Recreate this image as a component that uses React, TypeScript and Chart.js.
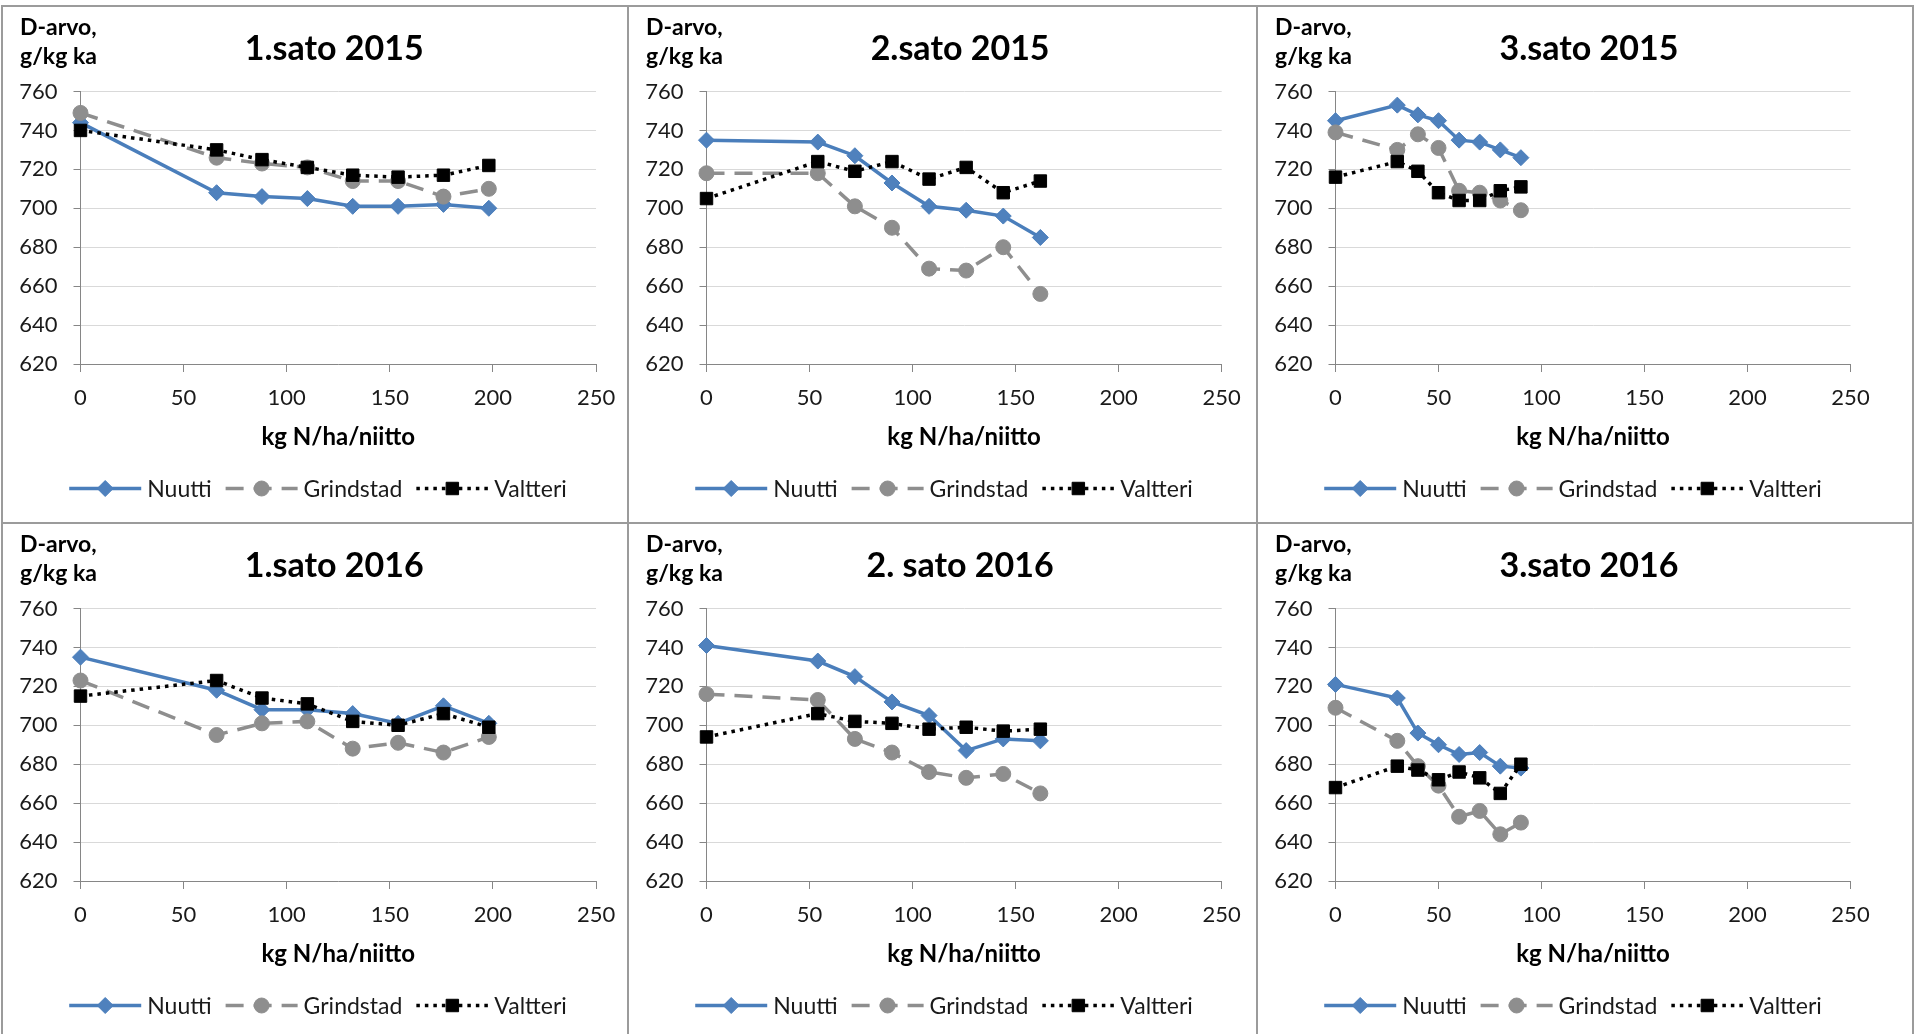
import React, { useEffect, useRef } from "react";
import { Chart, registerables } from "chart.js";

Chart.register(...registerables);

// ---------- data ----------
const yMin = 620;
const yMax = 760;
const yStep = 20;
const xMin = 0;
const xMax = 250;
const xStep = 50;

const seriesNames = ["Nuutti", "Grindstad", "Valtteri"];
const yLabelLines = ["D-arvo,", "g/kg ka"];
const xAxisTitle = "kg N/ha/niitto";

// N rates (kg N/ha/niitto)
const nRates1 = [0, 66, 88, 110, 132, 154, 176, 198];
const nRates2 = [0, 54, 72, 90, 108, 126, 144, 162];
const nRates3 = [0, 30, 40, 50, 60, 70, 80, 90];

// 1.sato 2015
const nuutti1_2015 = [744, 708, 706, 705, 701, 701, 702, 700];
const grindstad1_2015 = [749, 726, 723, 721, 714, 714, 706, 710];
const valtteri1_2015 = [740, 730, 725, 721, 717, 716, 717, 722];
// 2.sato 2015
const nuutti2_2015 = [735, 734, 727, 713, 701, 699, 696, 685];
const grindstad2_2015 = [718, 718, 701, 690, 669, 668, 680, 656];
const valtteri2_2015 = [705, 724, 719, 724, 715, 721, 708, 714];
// 3.sato 2015
const nuutti3_2015 = [745, 753, 748, 745, 735, 734, 730, 726];
const grindstad3_2015 = [739, 730, 738, 731, 709, 708, 704, 699];
const valtteri3_2015 = [716, 724, 719, 708, 704, 704, 709, 711];
// 1.sato 2016
const nuutti1_2016 = [735, 718, 708, 708, 706, 701, 710, 701];
const grindstad1_2016 = [723, 695, 701, 702, 688, 691, 686, 694];
const valtteri1_2016 = [715, 723, 714, 711, 702, 700, 706, 699];
// 2. sato 2016
const nuutti2_2016 = [741, 733, 725, 712, 705, 687, 693, 692];
const grindstad2_2016 = [716, 713, 693, 686, 676, 673, 675, 665];
const valtteri2_2016 = [694, 706, 702, 701, 698, 699, 697, 698];
// 3.sato 2016
const nuutti3_2016 = [721, 714, 696, 690, 685, 686, 679, 678];
const grindstad3_2016 = [709, 692, 679, 669, 653, 656, 644, 650];
const valtteri3_2016 = [668, 679, 677, 672, 676, 673, 665, 680];

const panelTitles = ["1.sato 2015", "2.sato 2015", "3.sato 2015", "1.sato 2016", "2. sato 2016", "3.sato 2016"];
const panelX = [nRates1, nRates2, nRates3, nRates1, nRates2, nRates3];
const panelNuutti = [nuutti1_2015, nuutti2_2015, nuutti3_2015, nuutti1_2016, nuutti2_2016, nuutti3_2016];
const panelGrindstad = [grindstad1_2015, grindstad2_2015, grindstad3_2015, grindstad1_2016, grindstad2_2016, grindstad3_2016];
const panelValtteri = [valtteri1_2015, valtteri2_2015, valtteri3_2015, valtteri1_2016, valtteri2_2016, valtteri3_2016];

// ---------- layout / style ----------
const COLS = [
  { left: 2, width: 626, rightPad: 30.6 },
  { left: 628, width: 629, rightPad: 35.3 },
  { left: 1257, width: 629, rightPad: 35.5 },
];
const ROWS = [
  { top: 6, height: 517 },
  { top: 523, height: 511 },
];
const PLOT_TOP = 85.5;
const PLOT_BOTTOM = 358;
const Y_AXIS_W = 78.5;
const X_AXIS_H = 90;

const FONT = "Lato, 'Open Sans', sans-serif";
const BLUE_LINE = "#4A7EBB";
const BLUE_FILL = "#4F81BD";
const GRAY = "#8E8E8E";
const BLACK = "#000000";
const GRID = "#D9D9D9";
const AXIS = "#868686";
const BORDER = "#9B9B9B";

const styles = [
  { color: BLUE_LINE, fill: BLUE_FILL, dash: [] as number[], style: "rectRot", radius: 8, width: 3.5 },
  { color: GRAY, fill: GRAY, dash: [18, 10], style: "circle", radius: 7.5, width: 3.5 },
  { color: BLACK, fill: BLACK, dash: [3.5, 5], style: "rect", radius: 8.8, width: 3.5 },
];

function drawMarker(ctx: CanvasRenderingContext2D, kind: string, x: number, y: number, r: number, fill: string, stroke: string) {
  ctx.save();
  ctx.setLineDash([]);
  ctx.beginPath();
  if (kind === "rectRot") {
    ctx.moveTo(x - r, y);
    ctx.lineTo(x, y - r);
    ctx.lineTo(x + r, y);
    ctx.lineTo(x, y + r);
    ctx.closePath();
  } else if (kind === "circle") {
    ctx.arc(x, y, r, 0, Math.PI * 2);
  } else {
    const s = r * Math.SQRT1_2;
    ctx.rect(x - s, y - s, 2 * s, 2 * s);
  }
  ctx.fillStyle = fill;
  ctx.fill();
  ctx.lineWidth = 1;
  ctx.strokeStyle = stroke;
  ctx.stroke();
  ctx.restore();
}

const decorPlugin = {
  id: "decor",
  afterDraw(chart: any, _args: any, opts: any) {
    const ctx: CanvasRenderingContext2D = chart.ctx;
    const ca = chart.chartArea;
    ctx.save();
    // y-axis caption
    ctx.fillStyle = "#000";
    ctx.font = `bold 23px ${FONT}`;
    ctx.textAlign = "left";
    ctx.textBaseline = "middle";
    ctx.fillText(yLabelLines[0], 18, 21.5);
    ctx.fillText(yLabelLines[1], 18, 50.5);
    // title
    ctx.font = `bold 34px ${FONT}`;
    ctx.textAlign = "center";
    ctx.fillText(opts.title, (ca.left + ca.right) / 2 - 4, 43);
    // legend
    ctx.font = `23px ${FONT}`;
    const symW = 72;
    const gap = 6;
    const sep = 14;
    const items = chart.data.datasets.map((ds: any) => ({ ds, tw: ctx.measureText(ds.label).width }));
    const total = items.reduce((s: number, it: any) => s + symW + gap + it.tw, 0) + sep * (items.length - 1);
    let x = 316 - total / 2;
    const ly = 482.5;
    items.forEach((it: any, i: number) => {
      const st = styles[i];
      ctx.save();
      ctx.beginPath();
      ctx.setLineDash(st.dash);
      ctx.strokeStyle = st.color;
      ctx.lineWidth = st.width;
      ctx.moveTo(x, ly);
      ctx.lineTo(x + symW, ly);
      ctx.stroke();
      ctx.restore();
      drawMarker(ctx, st.style, x + symW / 2, ly, st.radius, st.fill, st.color);
      ctx.fillStyle = "#1a1a1a";
      ctx.textAlign = "left";
      ctx.textBaseline = "middle";
      ctx.fillText(it.ds.label, x + symW + gap, ly + 1);
      x += symW + gap + it.tw + sep;
    });
    ctx.restore();
  },
};

function Panel({ idx }: { idx: number }) {
  const ref = useRef<HTMLCanvasElement | null>(null);
  const col = COLS[idx % 3];
  const row = ROWS[Math.floor(idx / 3)];
  useEffect(() => {
    if (!ref.current) return;
    const xs = panelX[idx];
    const seriesData = [panelNuutti[idx], panelGrindstad[idx], panelValtteri[idx]];
    const datasets = seriesData.map((vals, i) => ({
      label: seriesNames[i],
      data: xs.map((x, k) => ({ x, y: vals[k] })),
      borderColor: styles[i].color,
      backgroundColor: styles[i].fill,
      borderWidth: styles[i].width,
      borderDash: styles[i].dash,
      pointStyle: styles[i].style,
      pointRadius: styles[i].radius,
      pointBackgroundColor: styles[i].fill,
      pointBorderColor: styles[i].color,
      pointBorderWidth: 1,
      tension: 0,
      clip: false as const,
      order: 3 - i,
    }));
    const chart = new Chart(ref.current, {
      type: "line",
      data: { datasets },
      plugins: [decorPlugin],
      options: {
        animation: false,
        responsive: false,
        devicePixelRatio: 1,
        events: [],
        layout: { padding: { top: PLOT_TOP, left: 0, right: col.rightPad, bottom: row.height - PLOT_BOTTOM - X_AXIS_H } },
        plugins: {
          legend: { display: false },
          title: { display: false },
          tooltip: { enabled: false },
          decor: { title: panelTitles[idx] },
        } as any,
        scales: {
          x: {
            type: "linear",
            min: xMin,
            max: xMax,
            afterFit: (s: any) => { s.height = X_AXIS_H; },
            ticks: { stepSize: xStep, padding: 12.8, color: "#1a1a1a", font: { family: FONT, size: 22 } },
            grid: { drawOnChartArea: false, drawTicks: true, tickLength: 8, tickColor: AXIS, color: AXIS },
            border: { display: true, color: AXIS, width: 1 },
            title: {
              display: true,
              text: xAxisTitle,
              color: "#000",
              font: { family: FONT, size: 24, weight: "bold", lineHeight: 1.2 },
              padding: { top: 0, bottom: 2.1 },
            },
          },
          y: {
            type: "linear",
            min: yMin,
            max: yMax,
            afterFit: (s: any) => { s.width = Y_AXIS_W; },
            ticks: { stepSize: yStep, padding: 16, color: "#1a1a1a", font: { family: FONT, size: 22 } },
            grid: { color: GRID, lineWidth: 1, drawTicks: true, tickLength: 7, tickColor: AXIS },
            border: { display: true, color: AXIS, width: 1 },
          },
        },
      } as any,
    });
    (document as any).fonts?.load?.(`22px Lato`).then(() => chart.update()).catch(() => {});
    return () => chart.destroy();
  }, [idx]);
  return (
    <canvas
      ref={ref}
      width={col.width}
      height={row.height}
      style={{ position: "absolute", left: col.left, top: row.top, width: col.width, height: row.height }}
    />
  );
}

const lineStyle = (l: number, t: number, w: number, h: number): React.CSSProperties => ({
  position: "absolute",
  left: l,
  top: t,
  width: w,
  height: h,
  background: BORDER,
  zIndex: 2,
});

export default function App() {
  return (
    <div style={{ position: "absolute", left: 0, top: 0, width: 1915, height: 1034, background: "#fff", overflow: "hidden" }}>
      {[0, 1, 2, 3, 4, 5].map((i) => (
        <Panel key={i} idx={i} />
      ))}
      <div style={lineStyle(1, 5, 1913, 2)} />
      <div style={lineStyle(1, 522, 1913, 2)} />
      <div style={lineStyle(1, 5, 2, 1029)} />
      <div style={lineStyle(627, 5, 2, 1029)} />
      <div style={lineStyle(1256, 5, 2, 1029)} />
      <div style={lineStyle(1912, 5, 2, 1029)} />
    </div>
  );
}
